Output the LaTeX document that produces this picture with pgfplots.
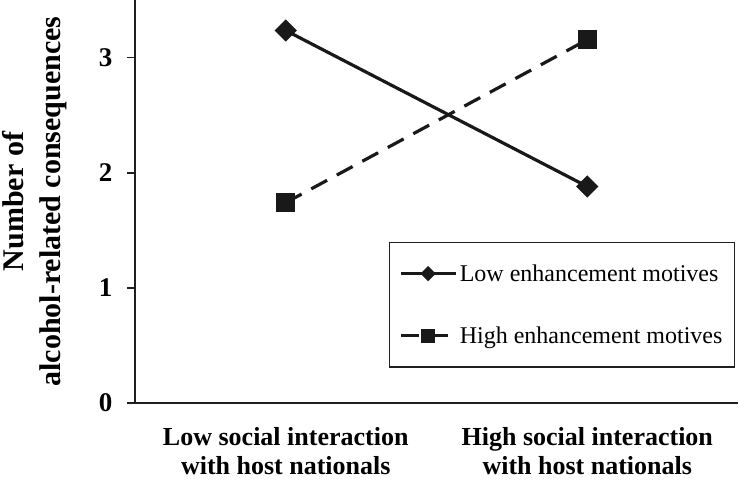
\documentclass[border=0pt]{standalone}
\usepackage{pgfplots}
\pgfplotsset{compat=1.18}
\usepackage{fontspec}
\setmainfont{Liberation Serif}
\begin{document}
\begin{tikzpicture}[x=1pt,y=1pt]
\useasboundingbox (0,0) rectangle (744,480);
\begin{axis}[
  at={(135pt,77pt)}, anchor=south west,
  scale only axis, width=603pt, height=403pt,
  xmin=-0.5, xmax=1.5, ymin=0, ymax=3.5,
  axis lines*=left,
  axis line style={line width=1.8pt, color=black!88},
  xtick={0,1},
  xticklabels={Low social interaction\\with host nationals, High social interaction\\with host nationals},
  major x tick style={draw=none},
  ytick={0,1,2,3},
  tick align=outside,
  major tick length=8pt,
  major y tick style={line width=1.8pt, color=black!88},
  /pgf/number format/assume math mode=true,
  yticklabel style={font=\bfseries\fontsize{27}{30}\selectfont, xshift=-11pt},
  xticklabel style={font=\bfseries\fontsize{26}{29}\selectfont, align=center, yshift=-13pt},
  ylabel={Number of\\alcohol-related consequences},
  every axis y label/.style={at={(axis description cs:-0.166,0.5)}, rotate=90, anchor=center, align=center, font=\bfseries\fontsize{30}{37}\selectfont},
  legend style={at={(axis description cs:0.421,0.40)}, anchor=north west, draw=black!88, line width=1.5pt,
    font=\fontsize{24}{28}\selectfont, row sep=40pt, inner xsep=10pt, inner ysep=20pt},
  legend cell align=left,
  legend image code/.code={\draw[mark repeat=2,mark phase=2,#1] plot coordinates {(0pt,0pt) (27pt,0pt) (55pt,0pt)};},
]
\addplot[line width=3.2pt, color=black!90, mark=square*, mark size=6.3pt, mark options={solid, rotate=45},
  legend image post style={mark size=3.8pt}]
  coordinates {(0,3.235) (1,1.88)};
\addlegendentry{Low enhancement motives}
\addplot[line width=3.2pt, color=black!90, dash pattern=on 18pt off 11pt, mark=square*, mark size=8pt, mark options={solid},
  legend image post style={mark size=5.5pt}]
  coordinates {(0,1.74) (1,3.155)};
\addlegendentry{High enhancement motives}
\end{axis}
\end{tikzpicture}
\end{document}
